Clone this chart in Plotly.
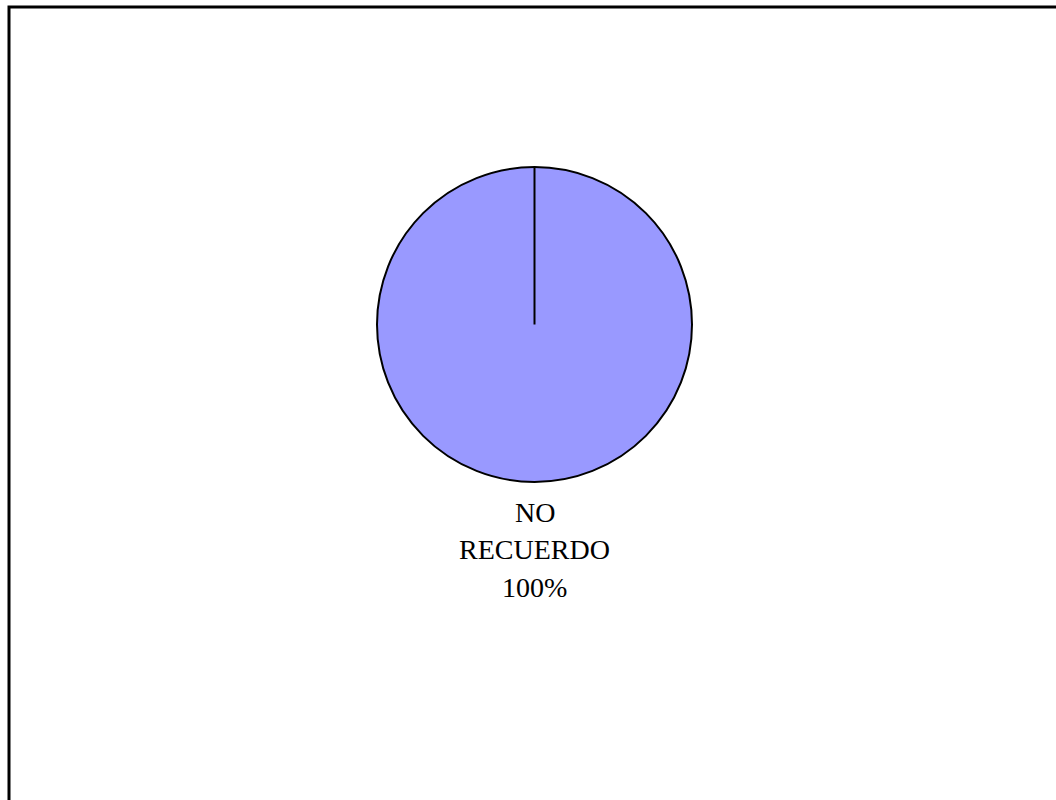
import plotly.graph_objects as go

# Survey answer shares
categories = ["NO RECUERDO"]
values = [100]

W, H = 1056, 800
FILL = "#9999FF"
FONT = "Liberation Serif, Times New Roman, serif"

# Pie geometry in pixels
cx, cy, r = 534.5, 324.5, 157.5
dom_x = [(cx - r) / W, (cx + r) / W]
dom_y = [1 - (cy + r) / H, 1 - (cy - r) / H]

fig = go.Figure(
    go.Pie(
        labels=categories,
        values=values,
        sort=False,
        direction="clockwise",
        rotation=0,
        textinfo="none",
        hoverinfo="label+percent",
        marker=dict(colors=[FILL], line=dict(color="black", width=2)),
        domain=dict(x=dom_x, y=dom_y),
        showlegend=False,
    )
)

# Radial boundary at the start of the first slice (12 o'clock)
shapes = [
    dict(type="line", xref="paper", yref="paper",
         x0=cx / W, x1=cx / W, y0=1 - cy / H, y1=dom_y[1],
         line=dict(color="black", width=2)),
    # outer frame of the chart area
    dict(type="rect", xref="paper", yref="paper",
         x0=9 / W, x1=1.05, y0=-0.05, y1=1 - 7 / H,
         line=dict(color="black", width=3), fillcolor="rgba(0,0,0,0)"),
]

# Slice label below the pie: category words then the share
total = sum(values)
annotations = []
for cat, val in zip(categories, values):
    lines = cat.split(" ") + [f"{round(100 * val / total)}%"]
    base_y = 512
    for i, txt in enumerate(lines):
        annotations.append(dict(
            text=txt, x=cx / W, y=1 - (base_y + 37.5 * i) / H,
            xref="paper", yref="paper", xanchor="center", yanchor="middle",
            showarrow=False, font=dict(family=FONT, size=28, color="black"),
        ))

fig.update_layout(
    width=W, height=H,
    margin=dict(l=0, r=0, t=0, b=0),
    paper_bgcolor="white", plot_bgcolor="white",
    shapes=shapes, annotations=annotations,
)

fig.write_html("out.html")
